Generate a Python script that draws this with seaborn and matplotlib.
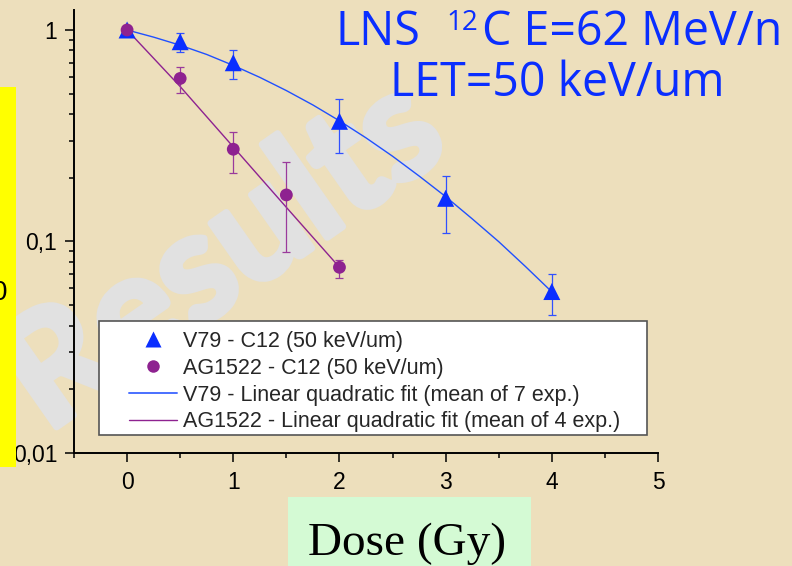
import numpy as np
import pandas as pd
import matplotlib
matplotlib.use("Agg")
import matplotlib.pyplot as plt
import matplotlib.patheffects as pe
import seaborn as sns
from matplotlib.lines import Line2D
from matplotlib.patches import Rectangle
from matplotlib.ticker import FixedLocator, LogLocator, FuncFormatter, NullFormatter

# --- survival data (surviving fraction vs dose) ---
dose_v79 = [0, 0.5, 1, 2, 3, 4]
sf_v79 = [1.0, 0.88, 0.70, 0.37, 0.16, 0.058]
sf_v79_low = [0.955, 0.785, 0.585, 0.261, 0.110, 0.045]
sf_v79_high = [1.0, 0.97, 0.80, 0.47, 0.205, 0.070]

dose_ag = [0, 0.5, 1, 1.5, 2]
sf_ag = [1.0, 0.59, 0.273, 0.166, 0.0755]
sf_ag_low = [1.0, 0.505, 0.211, 0.0895, 0.0675]
sf_ag_high = [1.0, 0.666, 0.328, 0.237, 0.0818]

# linear-quadratic fit curves
fit_dose_v79 = [0, 0.25, 0.5, 0.75, 1, 1.25, 1.5, 1.75, 2, 2.25, 2.5, 2.75,
                3, 3.25, 3.5, 3.75, 4]
fit_sf_v79 = [1.0, 0.925, 0.847, 0.766, 0.680, 0.597, 0.517, 0.442, 0.372,
              0.309, 0.253, 0.204, 0.163, 0.128, 0.0998, 0.0763, 0.0578]
fit_dose_ag = [0, 0.5, 1, 1.5, 2]
fit_sf_ag = [1.0, 0.54, 0.28, 0.145, 0.0755]

labels = ["V79 - C12 (50 keV/um)",
          "AG1522 - C12 (50 keV/um)",
          "V79 - Linear quadratic fit (mean of 7 exp.)",
          "AG1522 - Linear quadratic fit (mean of 4 exp.)"]
y_tick_values = [0.01, 0.1, 1]
y_tick_text = ["0,01", "0,1", "1"]
x_tick_values = [0, 1, 2, 3, 4, 5]

BLUE = "#0A2EFF"
BLUE_LINE = "#2050FF"
PURPLE = "#8E2290"
BG = "#EDDFBC"

sns.set_theme(style="ticks")
plt.rcParams["font.family"] = ["Liberation Sans", "DejaVu Sans"]

W, H = 792, 566
fig = plt.figure(figsize=(W / 100, H / 100), dpi=100)
fig.patch.set_facecolor(BG)


def fpos(x, y):
    return (x / W, 1 - y / H)


# watermark behind everything
fig.text(*fpos(224, 256), "Results", rotation=35, rotation_mode="anchor",
         ha="center", va="center", fontsize=110, fontweight="bold",
         family="Lato", color="#E1E1E1", zorder=-1,
         path_effects=[pe.withStroke(linewidth=5, foreground="#E1E1E1")])

ax = fig.add_axes([74 / W, 1 - 453 / H, (658 - 74) / W, (453 - 10) / H])
ax.patch.set_alpha(0)
ax.set_yscale("log")
ax.set_xlim(-0.5, 5)
ax.set_ylim(0.01, 1.243)

# fit curves
sns.lineplot(x=fit_dose_v79, y=fit_sf_v79, ax=ax, color=BLUE_LINE, lw=1.0,
             legend=False, zorder=2)
sns.lineplot(x=fit_dose_ag, y=fit_sf_ag, ax=ax, color=PURPLE, lw=1.0,
             legend=False, zorder=2)

# error bars
v = np.array(sf_v79)
ax.errorbar(dose_v79, v, yerr=[v - np.array(sf_v79_low), np.array(sf_v79_high) - v],
            fmt="none", ecolor="#3050FF", elinewidth=0.9, capsize=3.2,
            capthick=0.9, zorder=2)
a = np.array(sf_ag)
ax.errorbar(dose_ag, a, yerr=[a - np.array(sf_ag_low), np.array(sf_ag_high) - a],
            fmt="none", ecolor="#9A3A9C", elinewidth=0.9, capsize=3.2,
            capthick=0.9, zorder=2)

# measured points
sns.scatterplot(x=dose_v79, y=sf_v79, ax=ax, marker="^", s=150, color=BLUE,
                edgecolor="none", legend=False, zorder=3)
sns.scatterplot(x=dose_ag, y=sf_ag, ax=ax, marker="o", s=85, color=PURPLE,
                edgecolor="none", legend=False, zorder=3)

# axes styling
for side in ["top", "right"]:
    ax.spines[side].set_visible(False)
for side in ["left", "bottom"]:
    ax.spines[side].set_linewidth(1.4)
    ax.spines[side].set_color("black")
ax.xaxis.set_major_locator(FixedLocator(x_tick_values))
ax.xaxis.set_minor_locator(FixedLocator([-0.5 + 0.5 * i for i in range(11)]))
ax.yaxis.set_major_locator(FixedLocator(y_tick_values))
ax.yaxis.set_minor_locator(LogLocator(base=10, subs=np.arange(2, 10)))
ax.yaxis.set_major_formatter(FuncFormatter(
    lambda val, pos: dict(zip(y_tick_values, y_tick_text)).get(round(val, 4), "")))
ax.yaxis.set_minor_formatter(NullFormatter())
ax.tick_params(which="major", length=6.5, width=1.1, labelsize=16.5,
               colors="black", direction="out")
ax.tick_params(axis="x", which="major", pad=6.5)
ax.tick_params(axis="y", which="major", pad=5.5)
ax.tick_params(which="minor", length=3.6, width=1.1, colors="black",
               direction="out")
ax.set_xlabel("")
ax.set_ylabel("")

# legend box
fig.patches.append(Rectangle(fpos(99, 435), (647 - 99) / W, (435 - 321) / H,
                             transform=fig.transFigure, facecolor="white",
                             edgecolor="#555555", lw=1.2, zorder=1))
handles = [
    Line2D([], [], ls="none", marker="^", ms=12, color=BLUE, mec="none"),
    Line2D([], [], ls="none", marker="o", ms=9, color=PURPLE, mec="none"),
    Line2D([], [], color="#4A70FF", lw=1.4),
    Line2D([], [], color=PURPLE, lw=1.0),
]
leg = fig.legend(handles, labels, loc="upper left", bbox_to_anchor=fpos(129, 331),
                 frameon=False, borderpad=0, borderaxespad=0,
                 handlelength=48 / 21.5, handletextpad=6 / 21.5,
                 labelspacing=0.27, fontsize=15.5)
leg.set_zorder(6)

# title: beam line and ion, with the mass number as a raised small label
title_kw = dict(va="baseline", family="Open Sans", color=BLUE, zorder=4)
fig.text(*fpos(335, 45), "LNS", ha="left", fontsize=33.5, **title_kw)
fig.text(*fpos(446, 30), "12", ha="left", fontsize=20, **title_kw)
fig.text(*fpos(782, 45), "C E=62 MeV/n", ha="right", fontsize=33.5, **title_kw)
fig.text(*fpos(557, 96), "LET=50 keV/um", ha="center", fontsize=33.5, **title_kw)

# x-axis caption
fig.patches.append(Rectangle(fpos(288, 566), (531 - 288) / W, (566 - 497) / H,
                             transform=fig.transFigure, facecolor="#D4FAD4",
                             edgecolor="none", zorder=3))
fig.text(*fpos(407.5, 555), "Dose (Gy)", ha="center", va="baseline",
         fontsize=34, family="Liberation Serif", color="black", zorder=4)

# side panel
fig.patches.append(Rectangle(fpos(0, 467), 16 / W, (467 - 87) / H,
                             transform=fig.transFigure, facecolor="#FFFF00",
                             edgecolor="none", zorder=3))
fig.text(*fpos(7, 293), "0", ha="right", va="center", fontsize=20,
         color="black", zorder=4)

fig.savefig("out.png", dpi=100, facecolor=BG)
